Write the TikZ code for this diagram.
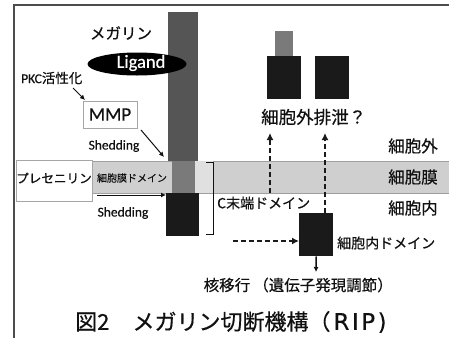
\documentclass[tikz,border=0pt]{standalone}
\usepackage{fontspec}
\setmainfont[FakeBold=0.4]{Carlito}
\newfontfamily\jp[FakeBold=0.5]{Noto Sans CJK JP}
\newfontfamily\dvs[FakeBold=0.3]{DejaVu Sans}
\usetikzlibrary{arrows.meta,shapes.geometric}
\definecolor{colA}{HTML}{555555}
\definecolor{colB}{HTML}{7A7A7A}
\definecolor{memb}{HTML}{CFCFCF}
\definecolor{membL}{HTML}{E0E0E0}
\definecolor{blk}{HTML}{1A1A1A}
\definecolor{txt}{HTML}{111111}
\tikzset{
  blockbox/.style={inner sep=0pt, anchor=north west, draw=none},
  framebox/.style={draw=gray!70, fill=white, inner sep=0pt, anchor=north west, line width=0.8pt},
  lbl/.style={inner sep=0pt, text=txt},
  arr/.style={-{Latex[length=5pt,width=5pt]}, line width=1pt, draw=txt},
  darr/.style={-{Latex[length=7pt,width=7pt]}, line width=2.2pt, dash pattern=on 5pt off 3pt, draw=blk},
}
\begin{document}
\begin{tikzpicture}[x=1pt,y=-1pt]
\useasboundingbox (0,0) rectangle (449,338);
\fill[white] (0,0) rectangle (449,338);
% frame
\draw[line width=1.3pt, gray!60!black] (14,338) -- (14,5) -- (449,5);
% membrane band
\fill[memb] (90,161) rectangle (449,193);
\draw[gray!75, line width=0.6pt] (90,161) -- (449,161) (90,193) -- (449,193);
% megalin column
\node[blockbox, fill=colA, minimum width=30pt, minimum height=149pt] (meg) at (168,12) {};
\node[blockbox, fill=colB, minimum width=23pt, minimum height=32pt] (tm) at (172,161) {};
\node[blockbox, fill=membL, minimum width=18pt, minimum height=32pt] (tml) at (195,161) {};
\node[blockbox, fill=blk, minimum width=33pt, minimum height=43pt] (cterm) at (166,193) {};
% bracket
\coordinate (bt) at (206,162);
\coordinate (bb) at (206,234);
\draw[line width=1pt, txt] (bt) -- ++(7,0) |- (bb);
% presenilin box
\node[framebox, minimum width=76pt, minimum height=41pt] (psen) at (16,160) {};
\node[lbl, font=\jp\fontsize{12.6}{13}\selectfont] (psentxt) at (54,178) {プレセニリン};
\node[lbl, font=\jp\fontsize{10}{10}\selectfont] (tmd) at (132,178) {細胞膜ドメイン};
% MMP
\node[framebox, minimum width=54pt, minimum height=27pt] (mmp) at (83,101) {};
\node[lbl, font=\fontsize{19}{19}\selectfont] at (110,114.5) {MMP};
\node[lbl, anchor=west, font=\fontsize{13.5}{14}\selectfont] (pkc) at (21,78) {PKC{\jp 活性化}};
% ligand
\node[ellipse, fill=black, minimum width=99pt, minimum height=23pt, inner sep=0pt] (lig) at (137,64) {};
\node[lbl, text=white, font=\fontsize{18.5}{19}\selectfont] at (141,63) {Ligand};
\node[lbl, font=\jp\fontsize{15.5}{16}\selectfont] (megtxt) at (121,33) {メガリン};
% shedding labels
\node[lbl, font=\fontsize{13.5}{14}\selectfont] (shed1) at (114,146) {Shedding};
\node[lbl, font=\fontsize{13.5}{14}\selectfont] (shed2) at (123,213) {Shedding};
% arrows
\coordinate (pkcA) at (73,88);
\coordinate (mmpA) at (85,100);
\draw[arr] (pkcA) -- (mmpA);
\coordinate (s1a) at (141,130);
\coordinate (s1b) at (164,157);
\draw[arr] (s1a) -- (s1b);
\coordinate (s2a) at (97,195);
\draw[arr] (s2a) -- (s2a -| cterm.west);
% C-terminal label
\node[lbl, anchor=west, font=\jp\fontsize{14}{14}\selectfont] (ctxt) at (217,203) {C末端ドメイン};
% right labels
\node[lbl, font=\jp\fontsize{16.5}{17}\selectfont] (out) at (413,146) {細胞外};
\node[lbl, font=\jp\fontsize{16.5}{17}\selectfont] (mem) at (413,177) {細胞膜};
\node[lbl, font=\jp\fontsize{16.5}{17}\selectfont] (in) at (413,208) {細胞内};
% top-right shed fragments
\node[blockbox, fill=colB, minimum width=18pt, minimum height=26pt] (frg) at (275,31) {};
\node[blockbox, fill=blk, minimum width=34pt, minimum height=43pt] (ex1) at (267,56) {};
\node[blockbox, fill=blk, minimum width=34pt, minimum height=43pt] (ex2) at (315,56) {};
\node[lbl, anchor=west, font=\jp\fontsize{17.5}{18}\selectfont] (excr) at (261,117) {細胞外排泄？};
% intracellular domain
\node[blockbox, fill=blk, minimum width=34pt, minimum height=43pt] (icd) at (299,213) {};
\node[lbl, anchor=west, font=\jp\fontsize{14}{14}\selectfont] (icdtxt) at (337,243) {細胞内ドメイン};
% dashed arrows
\coordinate (d1a) at (270,193);
\coordinate (d1b) at (270,133);
\draw[darr] (d1a) -- (d1b);
\coordinate (d2b) at (325,133);
\draw[darr] (icd.north -| d2b) -- (d2b);
\coordinate (d3a) at (233,241);
\draw[darr] (d3a) -- (d3a -| icd.west);
\coordinate (nuc) at (316,272);
\draw[arr, line width=1.4pt] (icd.south) -- (nuc);
\node[lbl, anchor=east, font=\jp\fontsize{15.5}{16}\selectfont] (nuctxt) at (393,285) {核移行\hspace{0.2em}（遺伝子発現調節）};
% title
\node[lbl, anchor=west, font=\jp\fontsize{22}{22}\selectfont] (title) at (75,322) {図2\hspace{1.05em}メガリン切断機構（\kern3pt{\dvs\fontsize{23}{23}\selectfont R\kern2.5pt I\kern2.5pt P\kern2.5pt)}};
\end{tikzpicture}
\end{document}
